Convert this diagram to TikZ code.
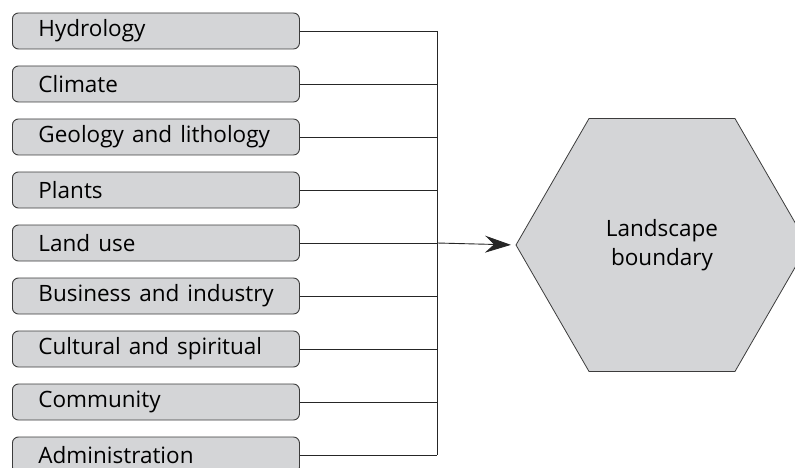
\documentclass[tikz,border=0pt]{standalone}
\usepackage{fontspec}
\setmainfont{Open Sans}
\usetikzlibrary{shapes.geometric,arrows.meta}
\definecolor{boxgray}{RGB}{212,213,215}
\definecolor{edgegray}{RGB}{60,60,60}
\newcommand{\factorfont}{\fontsize{22.5}{26}\selectfont\spaceskip=0.36em\relax}
\begin{document}
\begin{tikzpicture}[x=1pt,y=-1pt,
  factor/.style={draw=edgegray,line width=0.9pt,fill=boxgray,rounded corners=6pt,
    minimum width=287pt,minimum height=36pt,inner sep=0pt,anchor=west,
    text width=287pt,align=left},
  link/.style={draw=black!85,line width=0.9pt}]
\useasboundingbox (0,0) rectangle (795,468);
\foreach \t [count=\i from 0] in {Hydrology,Climate,Geology and lithology,Plants,Land use,Business and industry,Cultural and spiritual,Community,Administration}{
  \node[factor] (f\i) at (12,31+53*\i) {\factorfont\hspace*{26pt}\t};
}
\node[draw=edgegray,line width=0.8pt,fill=boxgray,regular polygon,regular polygon sides=6,
  minimum size=292pt,inner sep=0pt,outer sep=0pt,align=center,
  font=\fontsize{22.5}{29}\selectfont] (hex) at (662,245) {Landscape\\boundary};
\coordinate (bus) at (437,243);
\foreach \i in {0,...,8}{
  \draw[link] (f\i.east) -- (f\i.east -| bus);
}
\draw[link] (f0.east -| bus) -- (f8.east -| bus);
\draw[link,-{Stealth[length=26pt,width=17pt,inset=9pt]},shorten >=5pt] (f4.east -| bus) -- (hex.west);
\end{tikzpicture}
\end{document}
